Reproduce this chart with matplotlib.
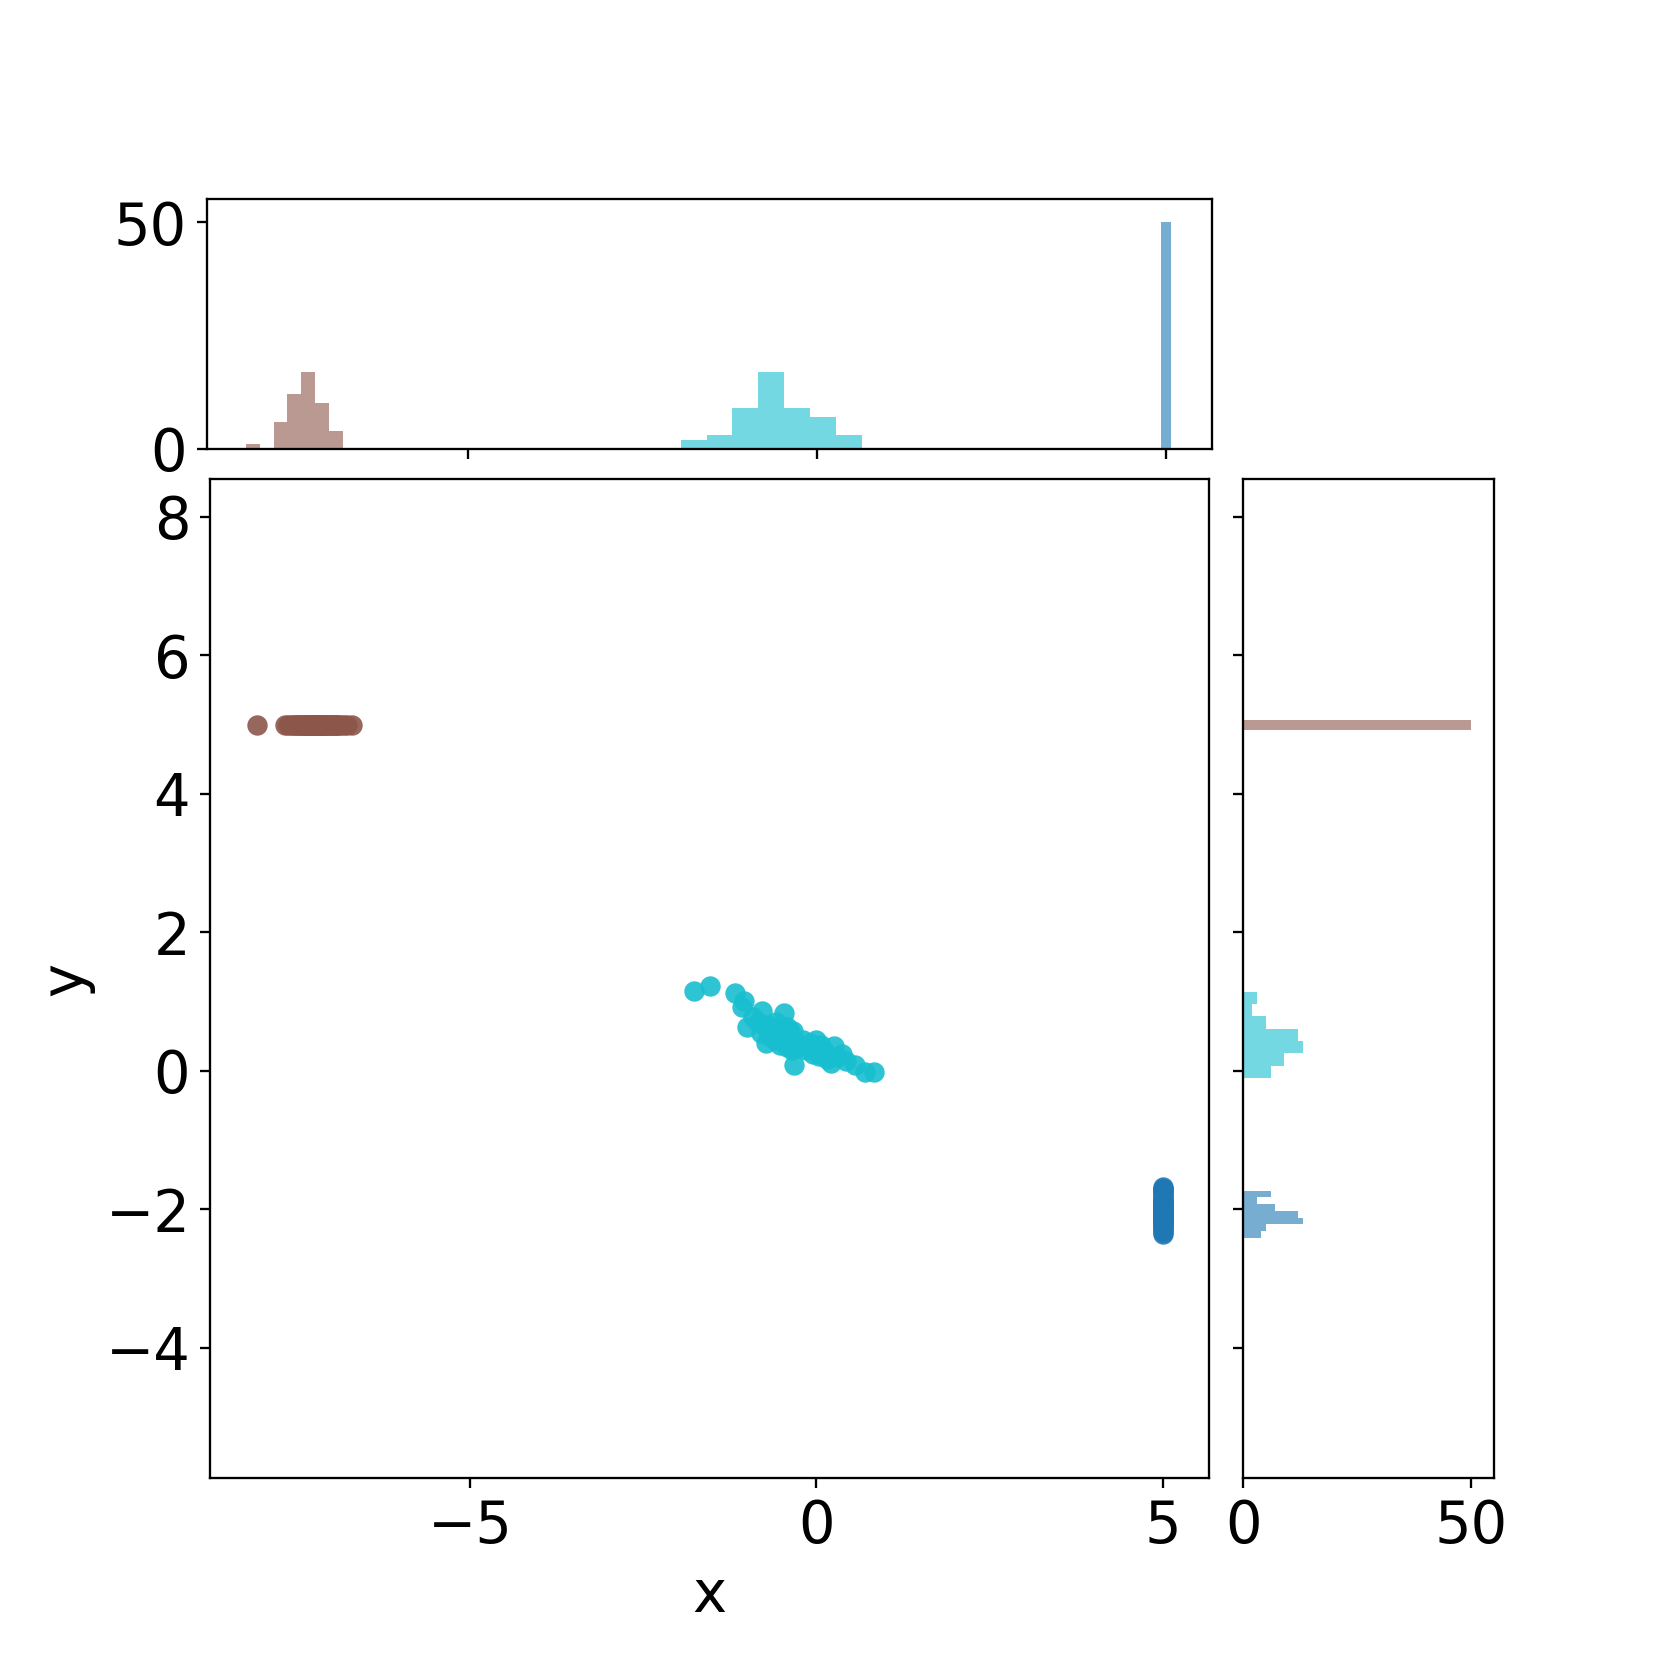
import matplotlib
matplotlib.use('Agg')

import numpy as np
import matplotlib.pyplot as plt

# group colours
c_brown = '#8c564b'
c_cyan = '#17becf'
c_blue = '#1f77b4'

# brown group: flat line at y=5
brown_x = [-8.08,
           -7.67, -7.62, -7.58, -7.55, -7.52, -7.50,
           -7.48, -7.46, -7.44, -7.42, -7.40, -7.38, -7.36, -7.35, -7.33, -7.32, -7.31, -7.30,
           -7.28, -7.27, -7.26, -7.25, -7.23, -7.22, -7.21, -7.20, -7.18, -7.17, -7.16, -7.15,
           -7.14, -7.13, -7.12, -7.11, -7.10,
           -7.08, -7.06, -7.04, -7.02, -7.00, -6.98, -6.96, -6.94, -6.92, -6.90,
           -6.86, -6.82, -6.77, -6.70]
brown_y = [5.0] * len(brown_x)

# cyan group: correlated cloud near the origin
cyan_x = [-1.77, -1.53,
          -1.17, -1.04, -1.08,
          -1.00, -0.91, -0.78, -0.73, -0.85, -0.80, -0.75, -0.70, -0.68,
          -0.47, -0.62, -0.60, -0.58, -0.55, -0.52, -0.50, -0.48, -0.45, -0.43,
          -0.42, -0.40, -0.38, -0.36, -0.34, -0.32, -0.30,
          -0.25, -0.20, -0.15, -0.10, -0.05, -0.02, 0.00, 0.03, 0.06,
          0.12, 0.15, 0.21, 0.25, 0.30, 0.37, 0.42,
          0.56, 0.70, 0.83]
cyan_y = [1.16, 1.23,
          1.13, 1.01, 0.93,
          0.63, 0.78, 0.86, 0.40, 0.70, 0.55, 0.65, 0.66, 0.50,
          0.83, 0.60, 0.45, 0.70, 0.52, 0.38, 0.62, 0.56, 0.55, 0.35,
          0.64, 0.54, 0.58, 0.30, 0.58, 0.08, 0.40,
          0.35, 0.45, 0.30, 0.40, 0.25, 0.32, 0.45, 0.22, 0.38,
          0.28, 0.18, 0.12, 0.36, 0.20, 0.24, 0.15,
          0.09, -0.01, -0.01]

# blue group: vertical strip at x=5
blue_y = [-2.36, -2.32, -2.29, -2.27,
          -2.25, -2.23, -2.21, -2.19, -2.17,
          -2.16, -2.155, -2.15, -2.14, -2.13, -2.12, -2.11, -2.10, -2.095, -2.09, -2.085, -2.08, -2.075,
          -2.065, -2.06, -2.05, -2.04, -2.03, -2.02, -2.01, -2.00, -1.995, -1.99, -1.98, -1.975,
          -1.965, -1.95, -1.93, -1.92, -1.90, -1.89, -1.88,
          -1.86, -1.83, -1.80,
          -1.77, -1.75, -1.73, -1.71, -1.70, -1.68]
blue_x = [5.0] * len(blue_y)

groups = [(brown_x, brown_y, c_brown), (cyan_x, cyan_y, c_cyan), (blue_x, blue_y, c_blue)]


def marginal(axm, vals, col, orient):
    # a constant column gives one centred bar, the spread ones sit on the left edge
    align = 'mid' if len(set(vals)) == 1 else 'left'
    axm.hist(vals, bins=7, color=col, alpha=0.6, align=align, orientation=orient)


plt.rcParams['font.size'] = 20

fig = plt.figure(figsize=(8, 8), dpi=207.625)
ax = fig.add_axes([0.1267, 0.1102, 0.6009, 0.6012])
ax_top = fig.add_axes([0.1244, 0.7298, 0.6053, 0.1502], sharex=ax)
ax_right = fig.add_axes([0.7485, 0.1102, 0.1510, 0.6012], sharey=ax)

for gx, gy, col in groups:
    ax.scatter(gx, gy, s=50, color=col, alpha=0.9, linewidths=0)
    marginal(ax_top, gx, col, 'vertical')
    marginal(ax_right, gy, col, 'horizontal')

ax.set_xlim(-8.745, 5.657)
ax.set_ylim(-5.877, 8.543)
ax.set_xticks([-5, 0, 5])
ax.set_yticks([-4, -2, 0, 2, 4, 6, 8])
ax.set_xlabel('x', fontsize=20)
ax.set_ylabel('y', fontsize=20)

ax_top.set_ylim(0, 55)
ax_top.set_yticks([0, 50])
ax_top.tick_params(labelbottom=False)

ax_right.set_xlim(0, 55)
ax_right.set_xticks([0, 50])
ax_right.tick_params(labelleft=False)

fig.savefig('out.png', dpi=207.625)
plt.close(fig)
